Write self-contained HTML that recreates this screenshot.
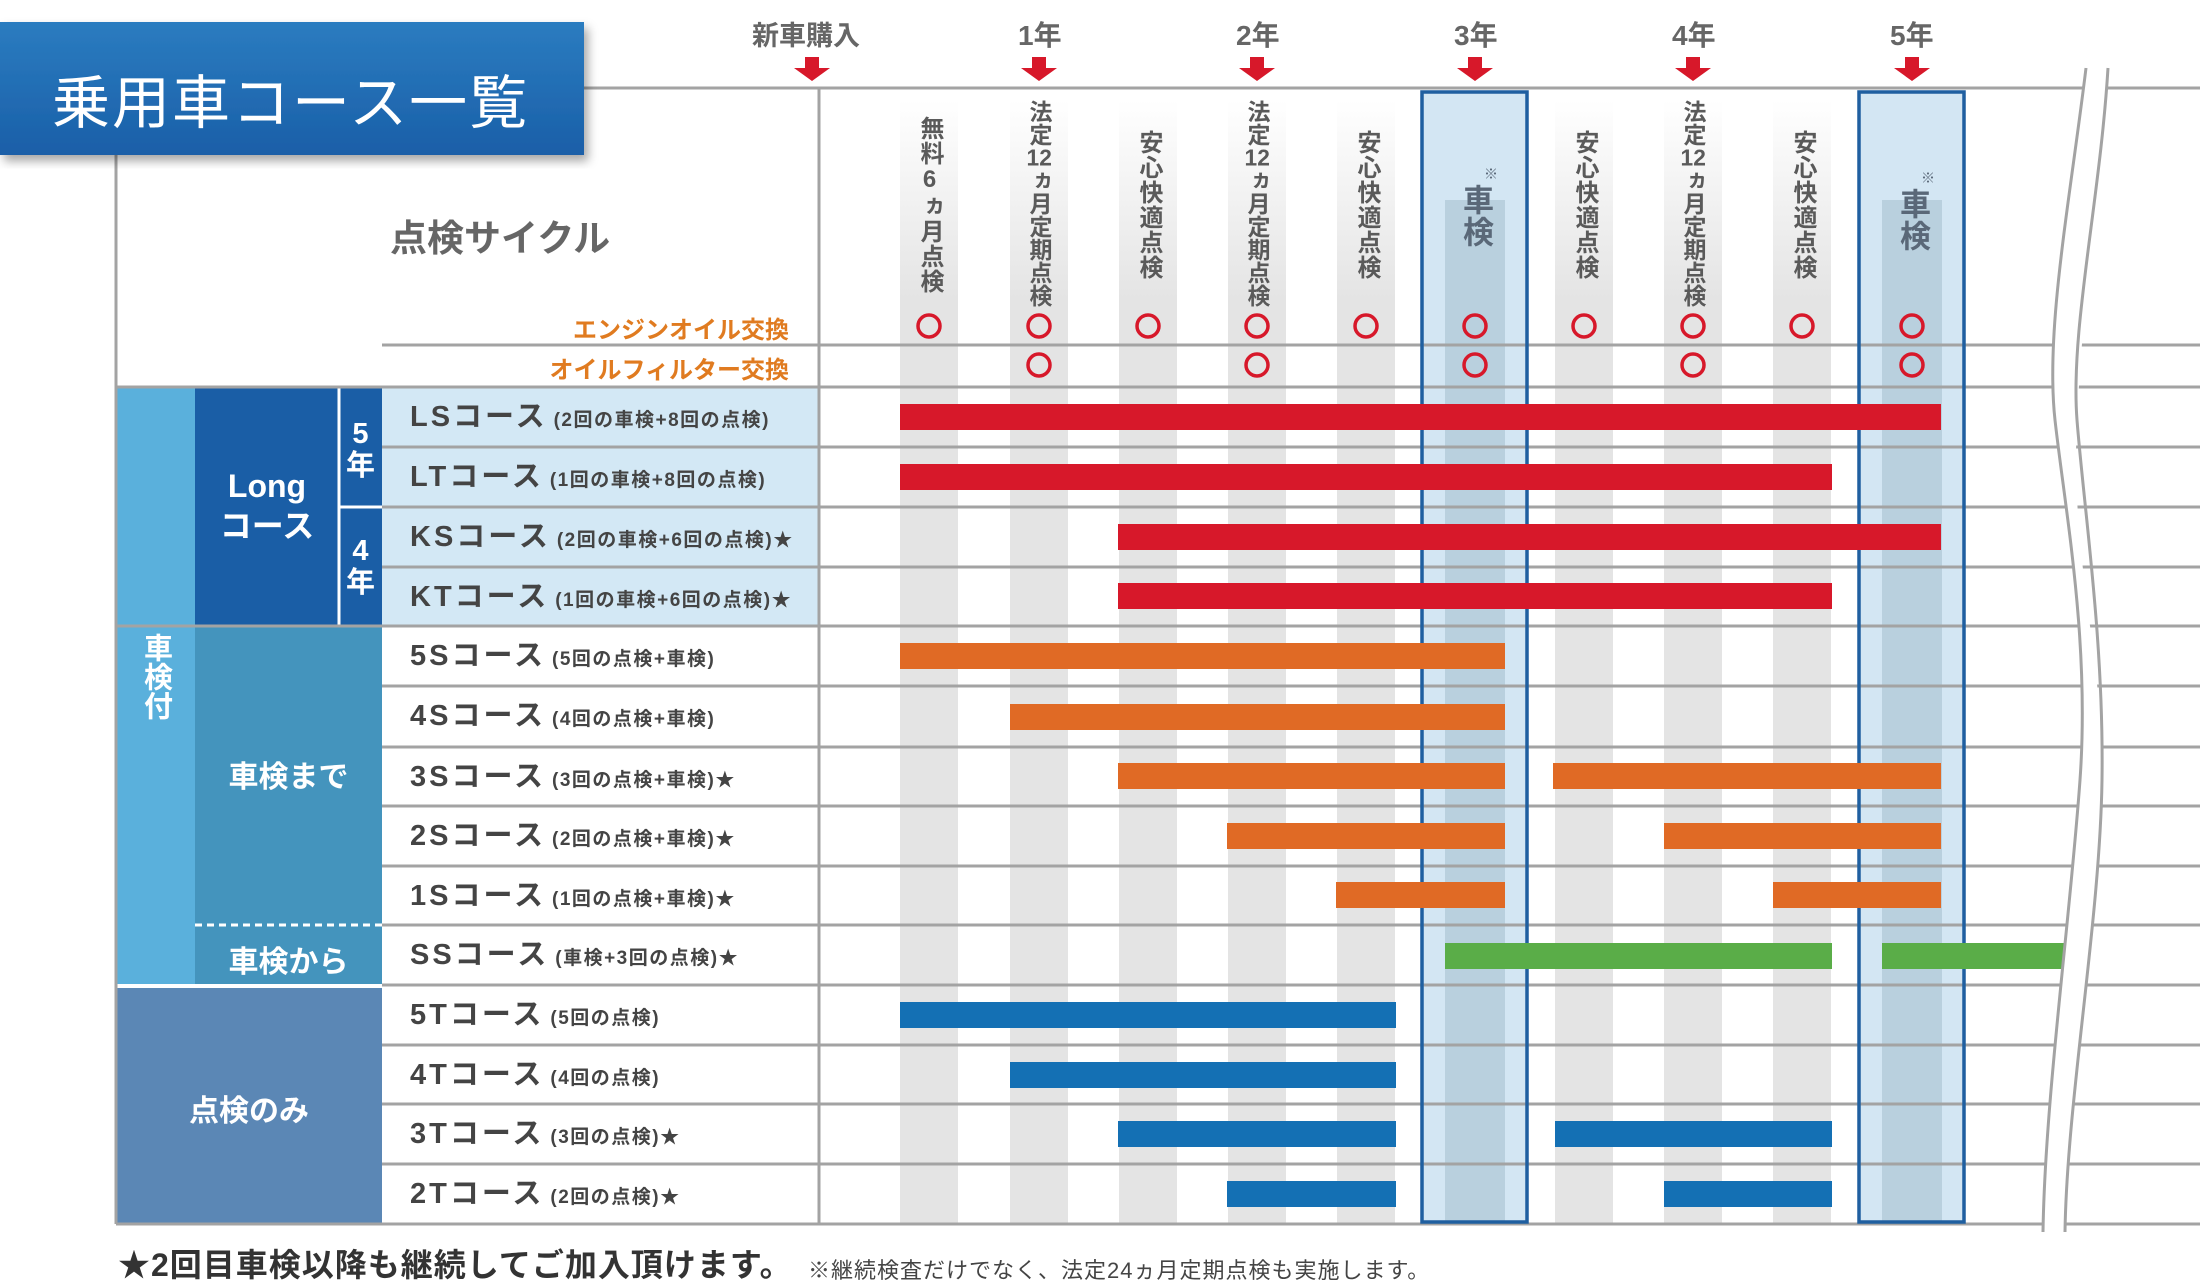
<!DOCTYPE html>
<html><head><meta charset="utf-8"><style>
body{margin:0;width:2200px;height:1278px;overflow:hidden;background:#fff;font-family:"Liberation Sans","Noto Sans CJK JP",sans-serif;}
.a{position:absolute;white-space:nowrap}
.v{position:absolute;writing-mode:vertical-rl;text-orientation:upright;font-weight:bold;color:#5a5a5a;font-size:24px;line-height:26px;letter-spacing:1px;transform:translateX(-13px)}
.v i{font-style:normal;text-combine-upright:all}
.lab{position:absolute;left:410px;font-size:29px;font-weight:bold;color:#444;letter-spacing:3px;line-height:60px}
.lab small{font-size:19px;letter-spacing:1.5px;margin-left:6px}
.g{position:absolute;color:#fff;font-weight:bold;text-align:center}
</style></head><body>
<svg width="2200" height="1278" style="position:absolute;left:0;top:0">
<defs>
<linearGradient id="st" x1="0" y1="0" x2="0" y2="1"><stop offset="0" stop-color="#e4e4e4" stop-opacity="0"/><stop offset="1" stop-color="#e4e4e4"/></linearGradient>
<linearGradient id="tb" x1="0" y1="0" x2="0" y2="1"><stop offset="0" stop-color="#2b7cc0"/><stop offset="1" stop-color="#1a5fa8"/></linearGradient>
<filter id="sh"><feDropShadow dx="4" dy="6" stdDeviation="5" flood-opacity="0.35"/></filter>
</defs>
<rect x="382" y="387" width="437" height="239" fill="#d3e8f5"/>
<g>
<rect x="900" y="100" width="58" height="200" fill="url(#st)"/><rect x="900" y="300" width="58" height="924" fill="#e4e4e4"/>
<rect x="1010" y="100" width="58" height="200" fill="url(#st)"/><rect x="1010" y="300" width="58" height="924" fill="#e4e4e4"/>
<rect x="1119" y="100" width="58" height="200" fill="url(#st)"/><rect x="1119" y="300" width="58" height="924" fill="#e4e4e4"/>
<rect x="1228" y="100" width="58" height="200" fill="url(#st)"/><rect x="1228" y="300" width="58" height="924" fill="#e4e4e4"/>
<rect x="1337" y="100" width="58" height="200" fill="url(#st)"/><rect x="1337" y="300" width="58" height="924" fill="#e4e4e4"/>
<rect x="1555" y="100" width="58" height="200" fill="url(#st)"/><rect x="1555" y="300" width="58" height="924" fill="#e4e4e4"/>
<rect x="1664" y="100" width="58" height="200" fill="url(#st)"/><rect x="1664" y="300" width="58" height="924" fill="#e4e4e4"/>
<rect x="1773" y="100" width="58" height="200" fill="url(#st)"/><rect x="1773" y="300" width="58" height="924" fill="#e4e4e4"/>
</g>
<rect x="1422" y="92" width="105" height="1130" fill="#d3e6f3"/>
<rect x="1445" y="200" width="60" height="1022" fill="#b9d0de"/>
<rect x="1859" y="92" width="105" height="1130" fill="#d3e6f3"/>
<rect x="1882" y="200" width="60" height="1022" fill="#b9d0de"/>
<rect x="116" y="387" width="79" height="598" fill="#5ab0dc"/>
<rect x="195" y="387" width="187" height="239" fill="#1a5ea6"/>
<rect x="195" y="626" width="187" height="359" fill="#4494bd"/>
<rect x="116" y="985" width="266" height="239" fill="#5b87b5"/>
<line x1="339" y1="387" x2="339" y2="626" stroke="#fff" stroke-width="3"/>
<line x1="339" y1="507" x2="382" y2="507" stroke="#fff" stroke-width="3"/>
<line x1="195" y1="626" x2="382" y2="626" stroke="#fff" stroke-width="3" stroke-dasharray="7 5"/>
<line x1="195" y1="925" x2="382" y2="925" stroke="#fff" stroke-width="3" stroke-dasharray="7 5"/>
<line x1="116" y1="986" x2="382" y2="986" stroke="#fff" stroke-width="4"/>
<g stroke="#a3a3a3" stroke-width="3">
<line x1="584" y1="88" x2="2200" y2="88"/>
<line x1="382" y1="345" x2="2200" y2="345"/>
<line x1="116" y1="387" x2="2200" y2="387"/>
<line x1="382" y1="447" x2="2200" y2="447"/><line x1="382" y1="507" x2="2200" y2="507"/><line x1="382" y1="567" x2="2200" y2="567"/>
<line x1="116" y1="626" x2="2200" y2="626"/><line x1="382" y1="686" x2="2200" y2="686"/><line x1="382" y1="747" x2="2200" y2="747"/>
<line x1="382" y1="806" x2="2200" y2="806"/><line x1="382" y1="866" x2="2200" y2="866"/><line x1="382" y1="925" x2="2200" y2="925"/>
<line x1="382" y1="985" x2="2200" y2="985"/><line x1="382" y1="1045" x2="2200" y2="1045"/><line x1="382" y1="1104" x2="2200" y2="1104"/>
<line x1="382" y1="1164" x2="2200" y2="1164"/><line x1="116" y1="1224" x2="2200" y2="1224"/>
<line x1="116" y1="150" x2="116" y2="1224"/>
<line x1="819" y1="88" x2="819" y2="1224"/>
</g>
<g stroke="#1f5fa0" stroke-width="3.5" fill="none">
<rect x="1422" y="92" width="105" height="1130"/>
<rect x="1859" y="92" width="105" height="1130"/>
</g>
<g>
<rect x="900" y="404" width="1041" height="26" fill="#d7182a"/>
<rect x="900" y="464" width="932" height="26" fill="#d7182a"/>
<rect x="1118" y="524" width="823" height="26" fill="#d7182a"/>
<rect x="1118" y="583" width="714" height="26" fill="#d7182a"/>
<g fill="#e06a25">
<rect x="900" y="643" width="605" height="26"/>
<rect x="1010" y="704" width="495" height="26"/>
<rect x="1118" y="763" width="387" height="26"/><rect x="1553" y="763" width="388" height="26"/>
<rect x="1227" y="823" width="278" height="26"/><rect x="1664" y="823" width="277" height="26"/>
<rect x="1336" y="882" width="169" height="26"/><rect x="1773" y="882" width="168" height="26"/>
</g>
<g fill="#5aad48"><rect x="1445" y="943" width="387" height="26"/><rect x="1882" y="943" width="200" height="26"/></g>
<g fill="#1470b4">
<rect x="900" y="1002" width="496" height="26"/>
<rect x="1010" y="1062" width="386" height="26"/>
<rect x="1118" y="1121" width="278" height="26"/><rect x="1555" y="1121" width="277" height="26"/>
<rect x="1227" y="1181" width="169" height="26"/><rect x="1664" y="1181" width="168" height="26"/>
</g>
</g>
<g fill="none" stroke="#d7182a" stroke-width="3.5">
<circle cx="929" cy="326" r="11"/><circle cx="1039" cy="326" r="11"/><circle cx="1148" cy="326" r="11"/><circle cx="1257" cy="326" r="11"/><circle cx="1366" cy="326" r="11"/><circle cx="1475" cy="326" r="11"/><circle cx="1584" cy="326" r="11"/><circle cx="1693" cy="326" r="11"/><circle cx="1802" cy="326" r="11"/><circle cx="1912" cy="326" r="11"/>
<circle cx="1039" cy="365" r="11"/><circle cx="1257" cy="365" r="11"/><circle cx="1475" cy="365" r="11"/><circle cx="1693" cy="365" r="11"/><circle cx="1912" cy="365" r="11"/>
</g>
<g fill="#d7182a">
<path d="M805 57h14v11h11l-18 13l-18-13h11z"/>
<path d="M1032 57h14v11h11l-18 13l-18-13h11z"/>
<path d="M1250 57h14v11h11l-18 13l-18-13h11z"/>
<path d="M1468 57h14v11h11l-18 13l-18-13h11z"/>
<path d="M1686 57h14v11h11l-18 13l-18-13h11z"/>
<path d="M1905 57h14v11h11l-18 13l-18-13h11z"/>
</g>
<path d="M2086 68 C2070 200,2045 330,2055 420 S2090 640,2080 780 S2045 1100,2043 1232 L2065 1232 C2067 1100,2100 900,2102 780 S2070 560,2077 420 S2100 200,2108 68 Z" fill="#fff"/>
<g fill="none" stroke="#a3a3a3" stroke-width="3">
<path d="M2086 68 C2070 200,2045 330,2055 420 S2090 640,2080 780 S2045 1100,2043 1232"/>
<path d="M2108 68 C2100 200,2070 330,2077 420 S2104 640,2102 780 S2067 1100,2065 1232"/>
</g>
<rect x="0" y="22" width="584" height="133" fill="url(#tb)" filter="url(#sh)"/>
</svg>
<div class="a" style="left:52px;top:56px;font-size:58px;color:#fff;letter-spacing:2px">乗用車コース一覧</div>
<div class="a" style="left:390px;top:208px;font-size:37px;font-weight:bold;color:#666">点検サイクル</div>
<div class="a" style="right:1411px;top:310px;font-size:24px;font-weight:bold;color:#e07b20">エンジンオイル交換</div>
<div class="a" style="right:1411px;top:350px;font-size:24px;font-weight:bold;color:#e07b20">オイルフィルター交換</div>
<div class="a" style="left:752px;top:14px;font-size:27px;font-weight:bold;color:#666">新車購入</div>
<div class="a" style="left:1018px;top:14px;font-size:28px;font-weight:bold;color:#666">1年</div>
<div class="a" style="left:1236px;top:14px;font-size:28px;font-weight:bold;color:#666">2年</div>
<div class="a" style="left:1454px;top:14px;font-size:28px;font-weight:bold;color:#666">3年</div>
<div class="a" style="left:1672px;top:14px;font-size:28px;font-weight:bold;color:#666">4年</div>
<div class="a" style="left:1890px;top:14px;font-size:28px;font-weight:bold;color:#666">5年</div>
<div class="v" style="left:929px;top:116px">無料6ヵ月点検</div>
<div class="v" style="left:1039px;top:100px;font-size:23px;line-height:25px;letter-spacing:0">法定<i>12</i>ヵ月定期点検</div>
<div class="v" style="left:1148px;top:130px">安心快適点検</div>
<div class="v" style="left:1257px;top:100px;font-size:23px;line-height:25px;letter-spacing:0">法定<i>12</i>ヵ月定期点検</div>
<div class="v" style="left:1366px;top:130px">安心快適点検</div>
<div class="v" style="left:1475px;top:184px;font-size:31px;line-height:32px;transform:translateX(-16px);color:#5a6878">車検</div>
<div class="a" style="left:1484px;top:164px;font-size:14px;color:#5a6878">※</div>
<div class="v" style="left:1584px;top:130px">安心快適点検</div>
<div class="v" style="left:1693px;top:100px;font-size:23px;line-height:25px;letter-spacing:0">法定<i>12</i>ヵ月定期点検</div>
<div class="v" style="left:1802px;top:130px">安心快適点検</div>
<div class="v" style="left:1912px;top:188px;font-size:31px;line-height:32px;transform:translateX(-16px);color:#5a6878">車検</div>
<div class="a" style="left:1921px;top:168px;font-size:14px;color:#5a6878">※</div>
<div class="g" style="left:116px;top:633px;font-size:29px;line-height:32px;writing-mode:vertical-rl;text-orientation:upright;height:120px;width:79px;display:flex;align-items:center">車検付</div>
<div class="g" style="left:195px;width:144px;top:466px;font-size:32px;line-height:40px">Long<br>コース</div>
<div class="g" style="left:339px;width:43px;top:418px;font-size:29px;line-height:32px">5<br>年</div>
<div class="g" style="left:339px;width:43px;top:535px;font-size:29px;line-height:32px">4<br>年</div>
<div class="g" style="left:195px;width:187px;top:752px;font-size:30px">車検まで</div>
<div class="g" style="left:195px;width:187px;top:937px;font-size:30px">車検から</div>
<div class="g" style="left:116px;width:266px;top:1086px;font-size:30px">点検のみ</div>
<div class="lab" style="top:387px">LSコース<small>(2回の車検+8回の点検)</small></div>
<div class="lab" style="top:447px">LTコース<small>(1回の車検+8回の点検)</small></div>
<div class="lab" style="top:507px">KSコース<small>(2回の車検+6回の点検)★</small></div>
<div class="lab" style="top:567px">KTコース<small>(1回の車検+6回の点検)★</small></div>
<div class="lab" style="top:626px">5Sコース<small>(5回の点検+車検)</small></div>
<div class="lab" style="top:686px">4Sコース<small>(4回の点検+車検)</small></div>
<div class="lab" style="top:747px">3Sコース<small>(3回の点検+車検)★</small></div>
<div class="lab" style="top:806px">2Sコース<small>(2回の点検+車検)★</small></div>
<div class="lab" style="top:866px">1Sコース<small>(1回の点検+車検)★</small></div>
<div class="lab" style="top:925px">SSコース<small>(車検+3回の点検)★</small></div>
<div class="lab" style="top:985px">5Tコース<small>(5回の点検)</small></div>
<div class="lab" style="top:1045px">4Tコース<small>(4回の点検)</small></div>
<div class="lab" style="top:1104px">3Tコース<small>(3回の点検)★</small></div>
<div class="lab" style="top:1164px">2Tコース<small>(2回の点検)★</small></div>
<div class="a" style="left:118px;top:1240px;font-size:32px;font-weight:bold;color:#333;letter-spacing:1px">★2回目車検以降も継続してご加入頂けます。</div>
<div class="a" style="left:808px;top:1253px;font-size:22px;color:#444;letter-spacing:1px">※継続検査だけでなく、法定24ヵ月定期点検も実施します。</div>
</body></html>
